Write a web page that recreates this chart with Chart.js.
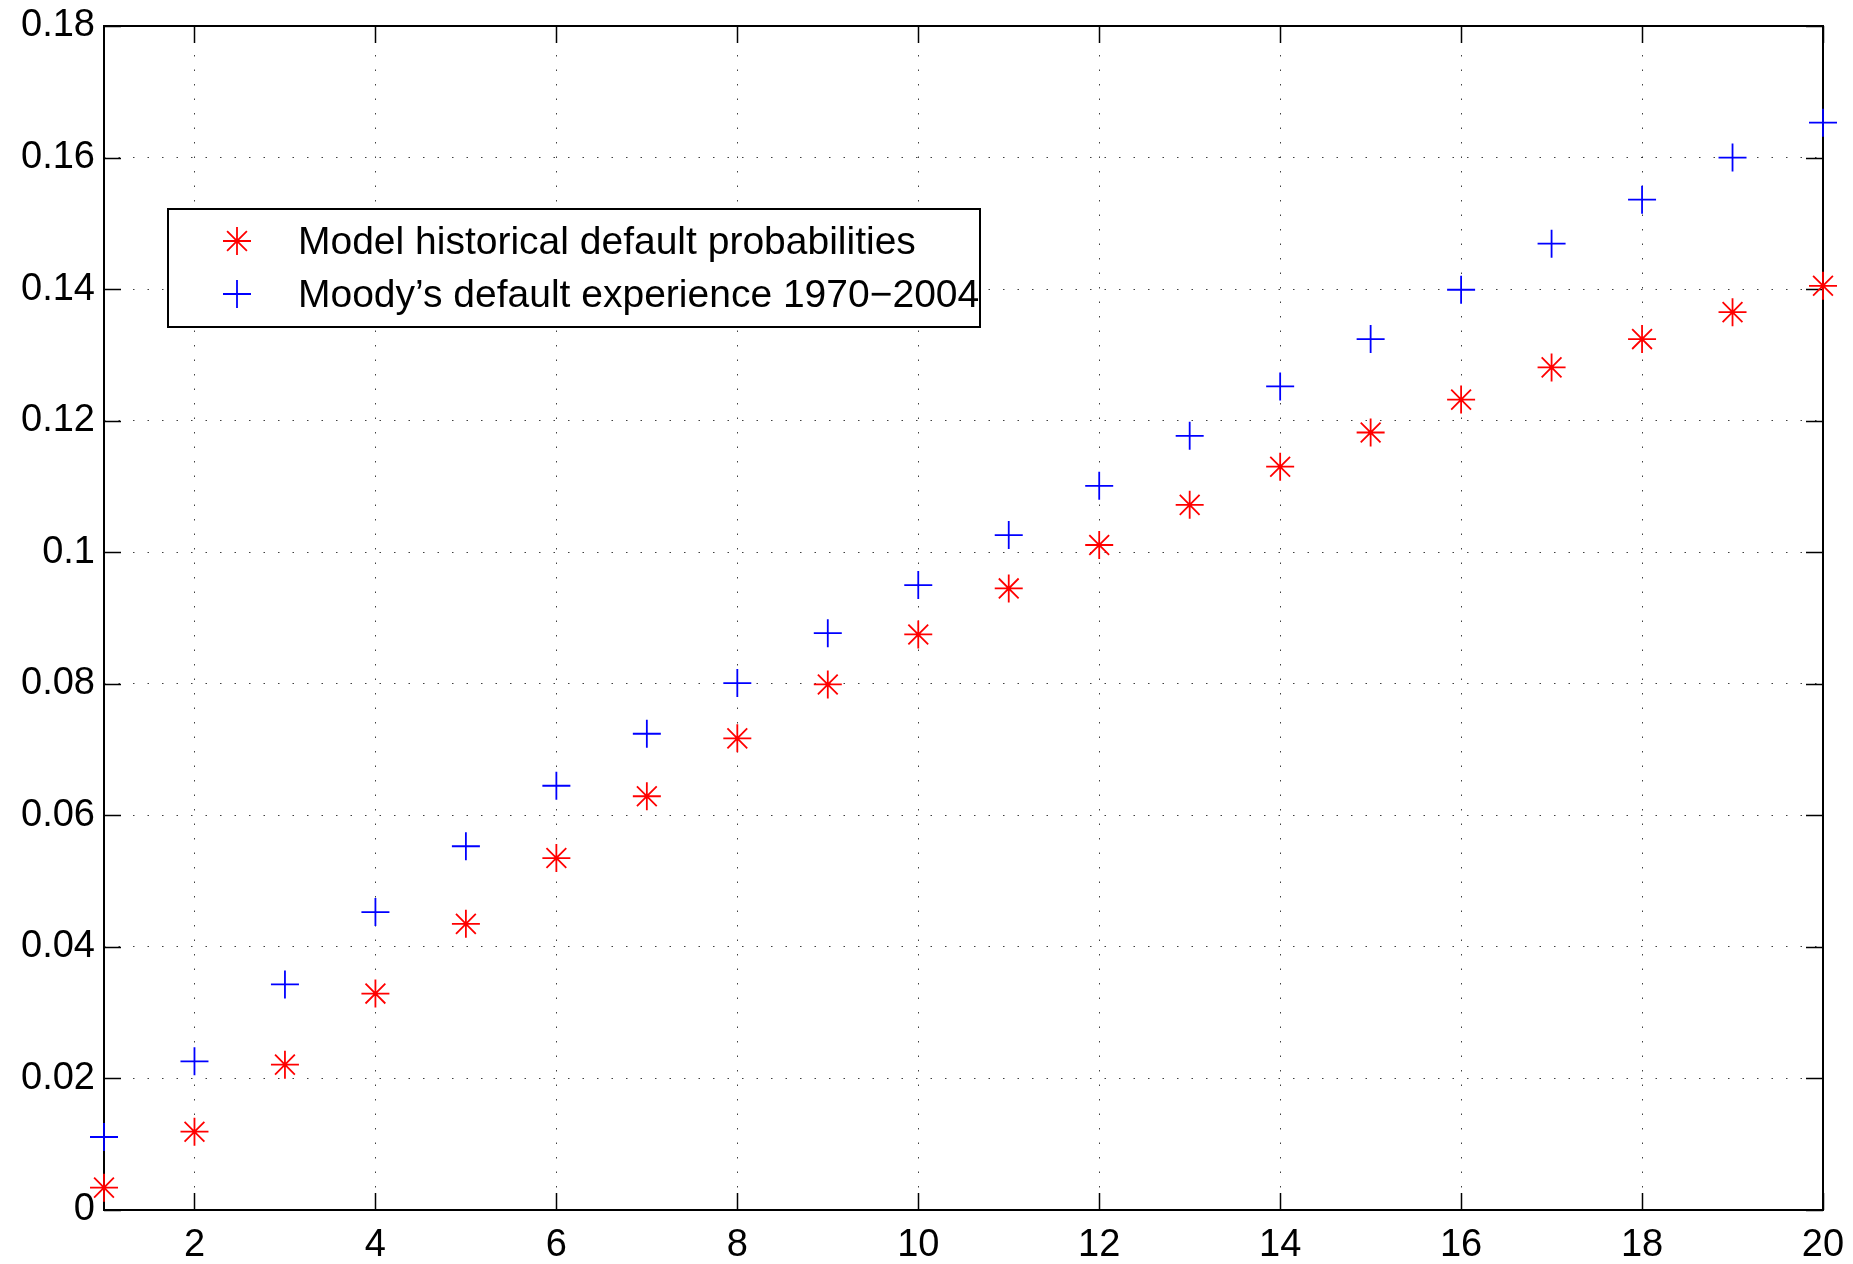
<!DOCTYPE html>
<html>
<head>
<meta charset="utf-8">
<script src="https://cdn.jsdelivr.net/npm/chart.js@4/dist/chart.umd.min.js"></script>
<style>
  html, body { margin: 0; padding: 0; background: #fff; }
  #wrap { width: 1853px; height: 1264px; position: relative; }
</style>
</head>
<body>
<div id="wrap"><canvas id="grafico"></canvas></div>
<script>
// anos (horizonte) e probabilidades acumuladas
const anos = [1, 2, 3, 4, 5, 6, 7, 8, 9, 10, 11, 12, 13, 14, 15, 16, 17, 18, 19, 20];
const modelo = [0.0034, 0.0119, 0.0221, 0.0329, 0.0435, 0.0535, 0.0629, 0.0717, 0.0799, 0.0875,
                0.0945, 0.1011, 0.1072, 0.1130, 0.1182, 0.1232, 0.1281, 0.1324, 0.1365, 0.1405];
const moodys = [0.0111, 0.0226, 0.0343, 0.0453, 0.0553, 0.0645, 0.0724, 0.0801, 0.0877, 0.0950,
                0.1026, 0.1101, 0.1177, 0.1252, 0.1324, 0.1399, 0.1469, 0.1536, 0.1600, 0.1653];
const ticksX = [2, 4, 6, 8, 10, 12, 14, 16, 18, 20];
const ticksY = [0, 0.02, 0.04, 0.06, 0.08, 0.1, 0.12, 0.14, 0.16, 0.18];
const rotulos = ['Model historical default probabilities', 'Moody\u2019s default experience 1970\u22122004'];

const FONTE = "'Liberation Sans', Arial, Helvetica, sans-serif";

// moldura e ticks internos (antes dos pontos), legenda por cima
const molduraPlugin = {
    id: 'moldura',
    beforeDatasetsDraw(chart) {
        const ctx = chart.ctx;
        const a = chart.chartArea;
        const sx = chart.scales.x, sy = chart.scales.y;
        const tam = 17;
        ctx.save();
        ctx.strokeStyle = '#000';
        ctx.lineWidth = 1.5;
        ctx.beginPath();
        ticksX.forEach(v => {
            const px = Math.round(sx.getPixelForValue(v)) + 0.5;
            ctx.moveTo(px, a.bottom); ctx.lineTo(px, a.bottom - tam);
            ctx.moveTo(px, a.top); ctx.lineTo(px, a.top + tam);
        });
        ticksY.forEach(v => {
            const py = Math.round(sy.getPixelForValue(v)) + 0.5;
            ctx.moveTo(a.left, py); ctx.lineTo(a.left + tam, py);
            ctx.moveTo(a.right, py); ctx.lineTo(a.right - tam, py);
        });
        ctx.stroke();
        ctx.lineWidth = 2;
        ctx.strokeRect(a.left, a.top, a.right - a.left, a.bottom - a.top);
        ctx.restore();
    },
    afterDraw(chart) {
        const ctx = chart.ctx;
        const lx = 168, ly = 209, lw = 812, lh = 118;
        ctx.save();
        ctx.fillStyle = '#fff';
        ctx.fillRect(lx, ly, lw, lh);
        ctx.strokeStyle = '#000';
        ctx.lineWidth = 2;
        ctx.strokeRect(lx, ly, lw, lh);
        ctx.font = '39px ' + FONTE;
        ctx.textBaseline = 'middle';
        ctx.textAlign = 'left';
        chart.data.datasets.forEach((ds, i) => {
            const cy = ly + 32 + i * 53;
            ctx.strokeStyle = ds.borderColor;
            ctx.lineWidth = 1.8;
            Chart.helpers.drawPoint(ctx, { pointStyle: ds.pointStyle, radius: 14, borderWidth: 1.8 }, 237, cy);
            ctx.fillStyle = '#000';
            ctx.fillText(ds.label, 298, cy + 2);
        });
        ctx.restore();
    }
};

const ctxG = document.getElementById('grafico').getContext('2d');
new Chart(ctxG, {
    type: 'scatter',
    data: {
        datasets: [
            { label: rotulos[0], data: anos.map((x, i) => ({ x: x, y: modelo[i] })), pointStyle: 'star', pointRadius: 14, pointHoverRadius: 14, borderColor: '#ff0000', backgroundColor: '#ff0000', borderWidth: 1.8, clip: false },
            { label: rotulos[1], data: anos.map((x, i) => ({ x: x, y: moodys[i] })), pointStyle: 'cross', pointRadius: 14, pointHoverRadius: 14, borderColor: '#0000ff', backgroundColor: '#0000ff', borderWidth: 1.8, clip: false }
        ]
    },
    options: {
        responsive: true, maintainAspectRatio: false, animation: false,
        layout: { padding: { top: 26, right: 30, left: 0, bottom: 0 } },
        plugins: { legend: { display: false }, tooltip: { enabled: false } },
        scales: {
            x: {
                type: 'linear', min: 1, max: 20,
                afterBuildTicks: s => { s.ticks = ticksX.map(v => ({ value: v })); },
                afterFit: s => { s.height = 54; s.paddingLeft = 0; s.paddingRight = 0; },
                grid: { color: 'rgba(0,0,0,0.75)', lineWidth: 1, drawTicks: false },
                border: { display: false, dash: [1.5, 13] },
                ticks: { padding: 13, color: '#000', font: { family: FONTE, size: 38 }, maxRotation: 0 }
            },
            y: {
                type: 'linear', min: 0, max: 0.18,
                afterBuildTicks: s => { s.ticks = ticksY.map(v => ({ value: v })); },
                afterFit: s => { s.width = 104; s.paddingTop = 0; s.paddingBottom = 0; },
                grid: { color: 'rgba(0,0,0,0.75)', lineWidth: 1, drawTicks: false },
                border: { display: false, dash: [1.5, 13] },
                ticks: { padding: 9, color: '#000', font: { family: FONTE, size: 38 }, callback: v => String(+v.toFixed(2)) }
            }
        }
    },
    plugins: [molduraPlugin]
});
</script>
</body>
</html>
